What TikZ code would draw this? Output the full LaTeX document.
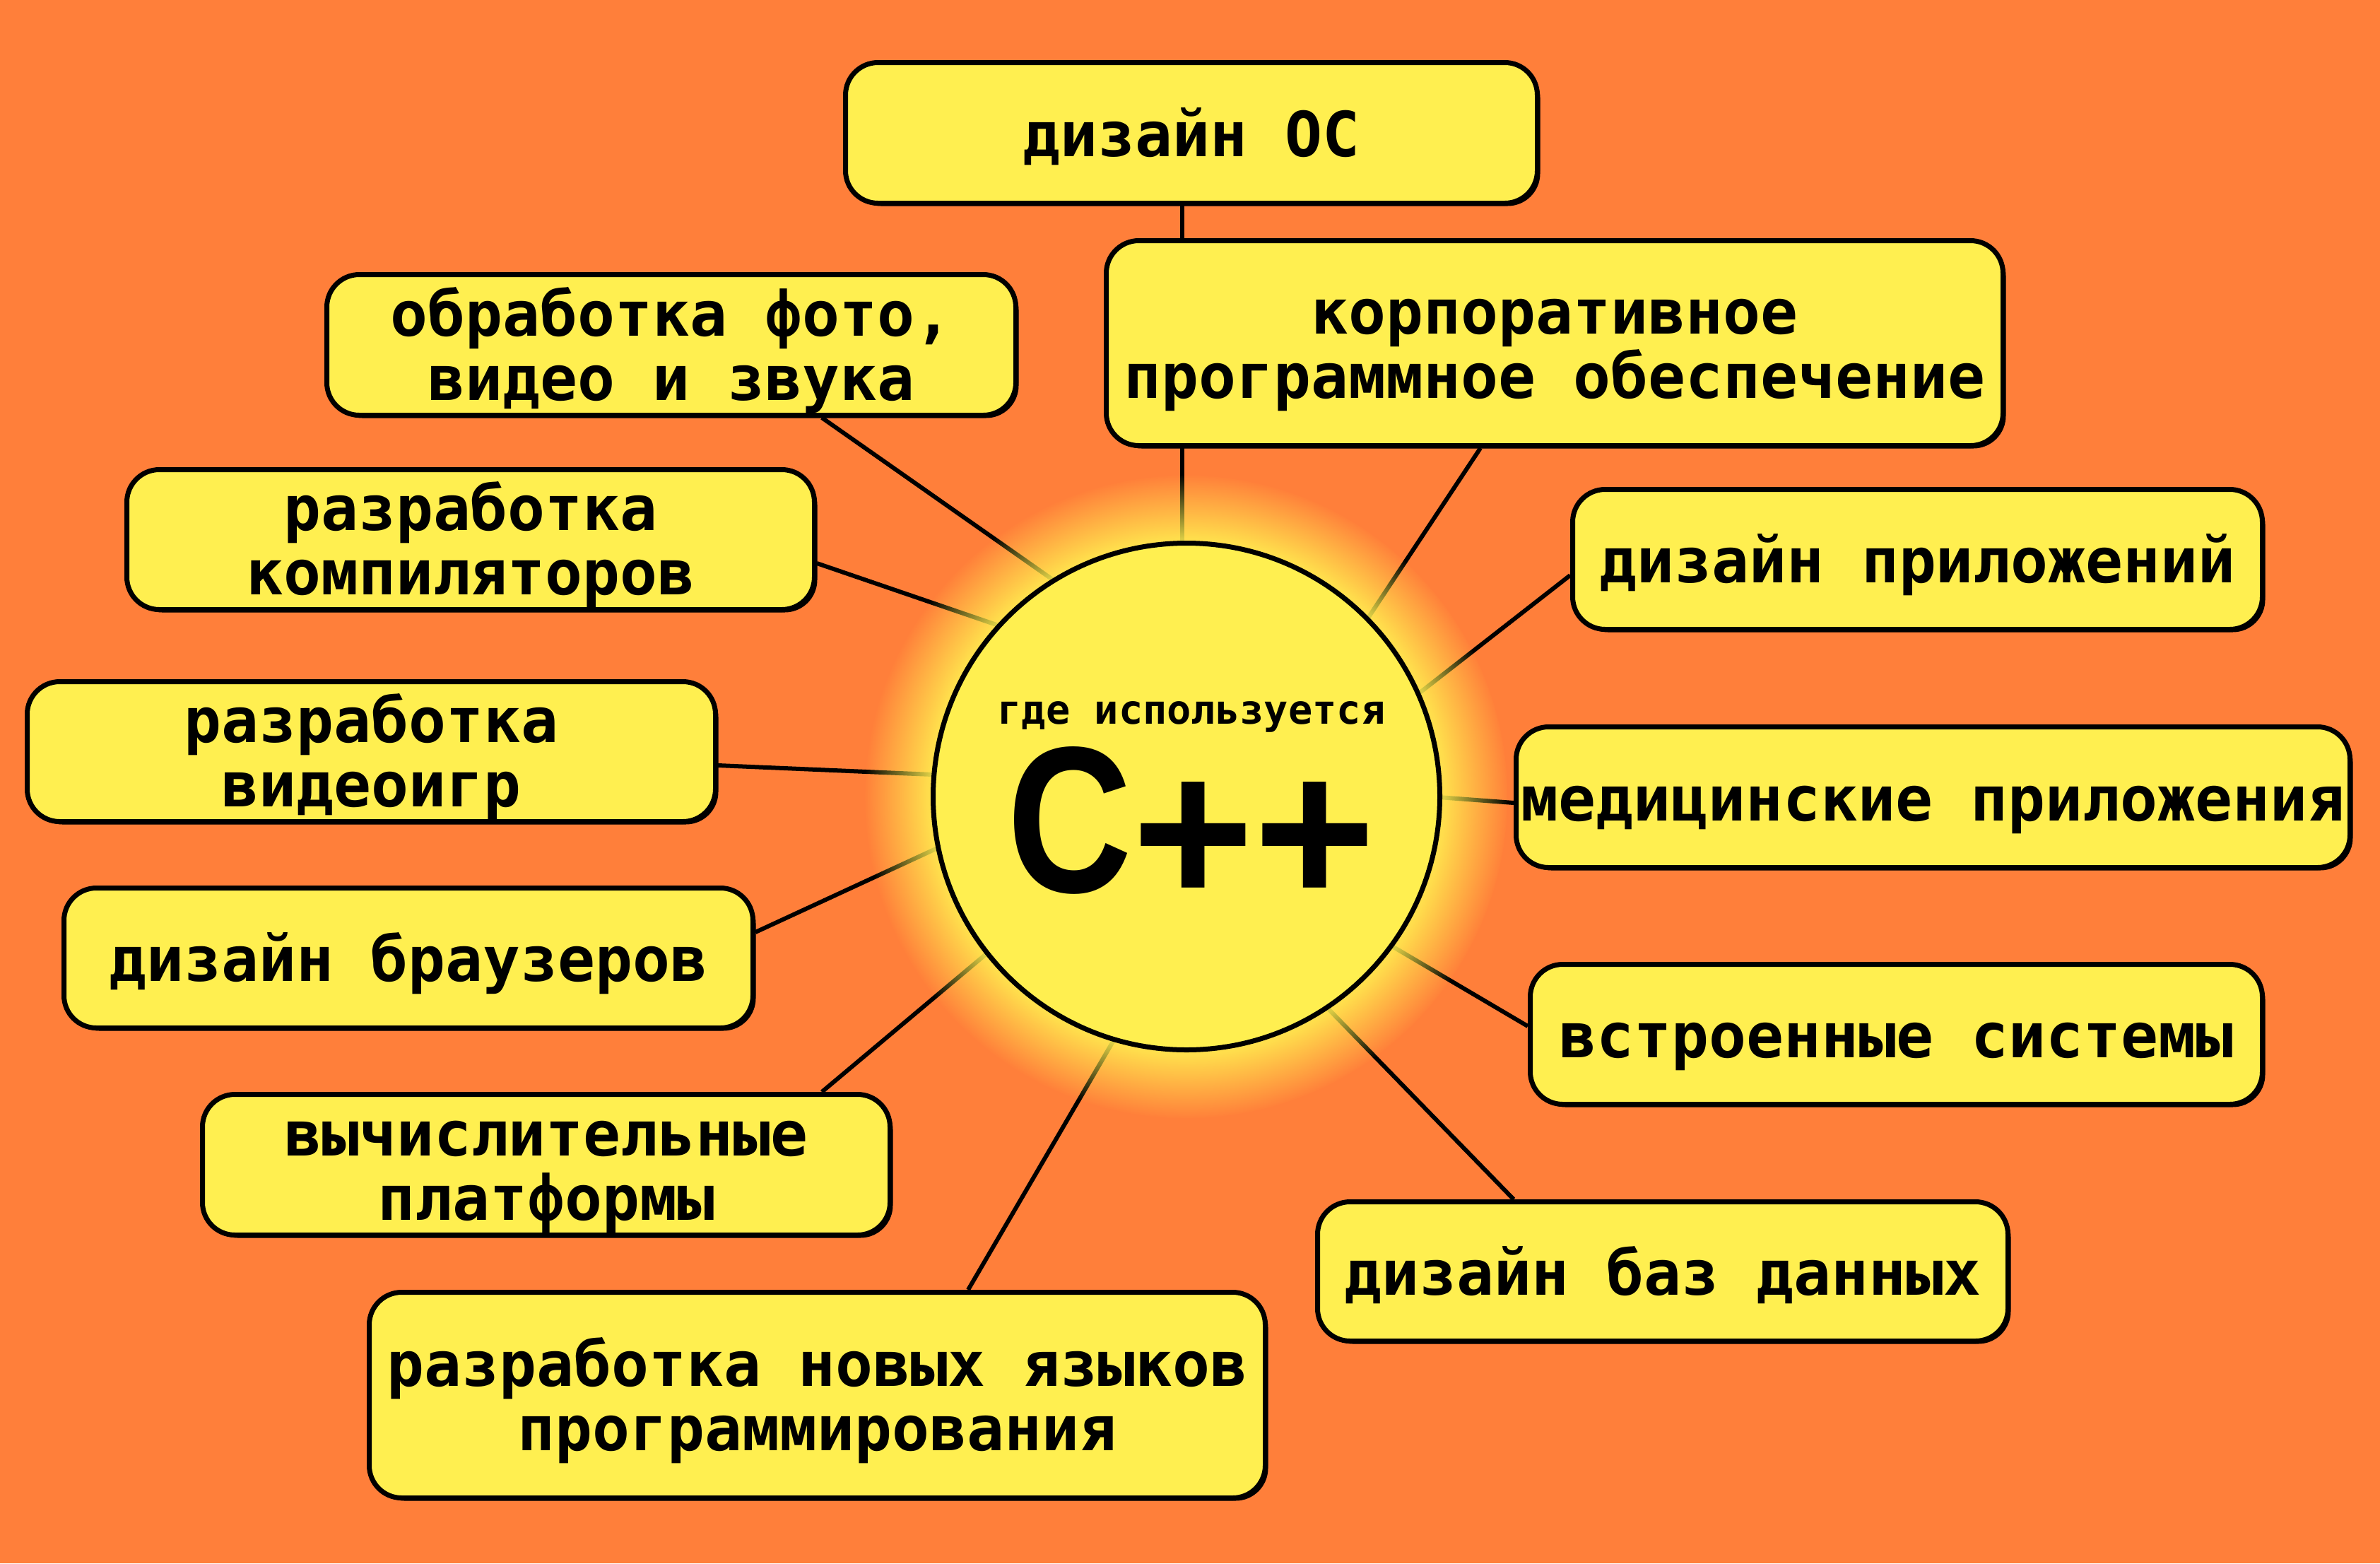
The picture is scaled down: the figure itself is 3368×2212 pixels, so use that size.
\documentclass[tikz,border=0pt]{standalone}
\usepackage{fontspec}
\usetikzlibrary{shadows,fadings}
\newfontfamily\boxfont{DejaVu Sans Mono}
\newfontfamily\cppfont{Liberation Sans}
\definecolor{bgorange}{RGB}{255,127,58}
\definecolor{boxyellow}{RGB}{255,239,80}
\pgfdeclarelayer{back}
\pgfdeclarelayer{lines}
\pgfdeclarelayer{glow}
\pgfsetlayers{back,lines,glow,main}
\pgfdeclareradialshading{glowshade}{\pgfpoint{0bp}{0bp}}{color(0bp)=(white!85!black); color(20bp)=(white!85!black); color(25bp)=(black); color(50bp)=(black)}
\pgfdeclarefading{glowfade}{\pgfuseshading{glowshade}}
\newcommand{\boxtext}[2]{\raisebox{#1}{\vbox{\halign{\hfil##\hfil\cr#2\crcr}}}}
\begin{document}
\begin{tikzpicture}[x=1pt,y=-1pt,
  ubox/.style={draw=black, line width=7pt, fill=boxyellow, rounded corners=46pt,
    inner sep=0pt, text height=0pt, text depth=0pt,
    font=\boxfont\bfseries\fontsize{88}{91}\selectfont,
    drop shadow={shadow xshift=4pt, shadow yshift=-4pt, opacity=1, fill=black}},
  conn/.style={draw=black, line width=6pt}]
\begin{pgfonlayer}{back}
\fill[bgorange] (0,0) rectangle (3368,2212);
\end{pgfonlayer}
\useasboundingbox (0,0) rectangle (3368,2212);

% centre circle
\node[draw=black, line width=7pt, circle, fill=boxyellow, minimum size=717pt, inner sep=0pt] (cpp) at (1679,1127) {};
\node[anchor=base, inner sep=0pt, text height=44pt, text depth=12pt, font=\boxfont\bfseries\fontsize{57}{60}\selectfont] (where) at (1686,1024) {где используется};
\node[anchor=base, inner sep=0pt, text height=215pt, text depth=17pt, font=\cppfont\bfseries\fontsize{295}{300}\selectfont] (cpptext) at (1686,1262) {\scalebox{0.83}[1]{C}\raisebox{-17pt}{++}};

% boxes
\node[ubox, minimum width=979pt, minimum height=199pt] (b1) at (1686,188) {\boxtext{-33pt}{дизайн ОС}};
\node[ubox, minimum width=1269pt, minimum height=290pt] (b2) at (2200,485.5) {\boxtext{-78pt}{корпоративное\cr программное обеспечение}};
\node[ubox, minimum width=975pt, minimum height=199pt] (b3) at (950,488) {\boxtext{-78pt}{обработка фото,\cr видео и звука}};
\node[ubox, minimum width=973pt, minimum height=198pt] (b4) at (666,763.5) {\boxtext{-78pt}{разработка\cr компиляторов}};
\node[ubox, minimum width=974pt, minimum height=198pt] (b5) at (525.5,1063.5) {\boxtext{-78pt}{разработка\cr видеоигр}};
\node[ubox, minimum width=975pt, minimum height=198pt] (b6) at (578,1355.5) {\boxtext{-33pt}{дизайн браузеров}};
\node[ubox, minimum width=973pt, minimum height=199pt] (b7) at (773,1648) {\boxtext{-78pt}{вычислительные\cr платформы}};
\node[ubox, minimum width=1268pt, minimum height=291pt] (b8) at (1156.5,1974) {\boxtext{-78pt}{разработка новых языков\cr программирования}};
\node[ubox, minimum width=977pt, minimum height=197pt] (b9) at (2353,1799) {\boxtext{-33pt}{дизайн баз данных}};
\node[ubox, minimum width=1036pt, minimum height=198pt] (b10) at (2683.5,1463.5) {\boxtext{-33pt}{встроенные системы}};
\node[ubox, minimum width=1180pt, minimum height=199pt] (b11) at (2735.5,1128) {\boxtext{-33pt}{медицинские приложения}};
\node[ubox, minimum width=976pt, minimum height=198pt] (b12) at (2713.5,791.5) {\boxtext{-33pt}{дизайн приложений}};

% free ends inside the circle
\coordinate (e1) at (1673,800);
\coordinate (e2) at (1921,897);
\coordinate (e3) at (1518,840);
\coordinate (e4) at (1445,896);
\coordinate (e5) at (1343,1097);
\coordinate (e6) at (1346,1191);
\coordinate (e7) at (1418,1331);
\coordinate (e8) at (1590,1448);
\coordinate (e9) at (1853,1400);
\coordinate (e10) at (1943,1323);
\coordinate (e11) at (2009,1126);
\coordinate (e12) at (1990,995);

\begin{pgfonlayer}{lines}
\draw[conn] ([xshift=-13pt]b1.south) -- (e1);
\draw[conn] ([xshift=-105pt]b2.south) -- (e2);
\draw[conn] ([xshift=213pt]b3.south) -- (e3);
\draw[conn] ([yshift=-33.5pt]b4.east) -- (e4);
\draw[conn] ([yshift=-19.5pt]b5.east) -- (e5);
\draw[conn] ([yshift=36.5pt]b6.east) -- (e6);
\draw[conn] ([xshift=390pt]b7.north) -- (e7);
\draw[conn] ([xshift=213.5pt]b8.north) -- (e8);
\draw[conn] ([xshift=-211pt]b9.north) -- (e9);
\draw[conn] ([yshift=11.5pt]b10.west) -- (e10);
\draw[conn] ([yshift=-8pt]b11.west) -- (e11);
\draw[conn] ([yshift=-22.5pt]b12.west) -- (e12);
\end{pgfonlayer}

\begin{pgfonlayer}{glow}
\fill[boxyellow, path fading=glowfade] (cpp.center) circle[radius=455pt];
\end{pgfonlayer}
\end{tikzpicture}
\end{document}
